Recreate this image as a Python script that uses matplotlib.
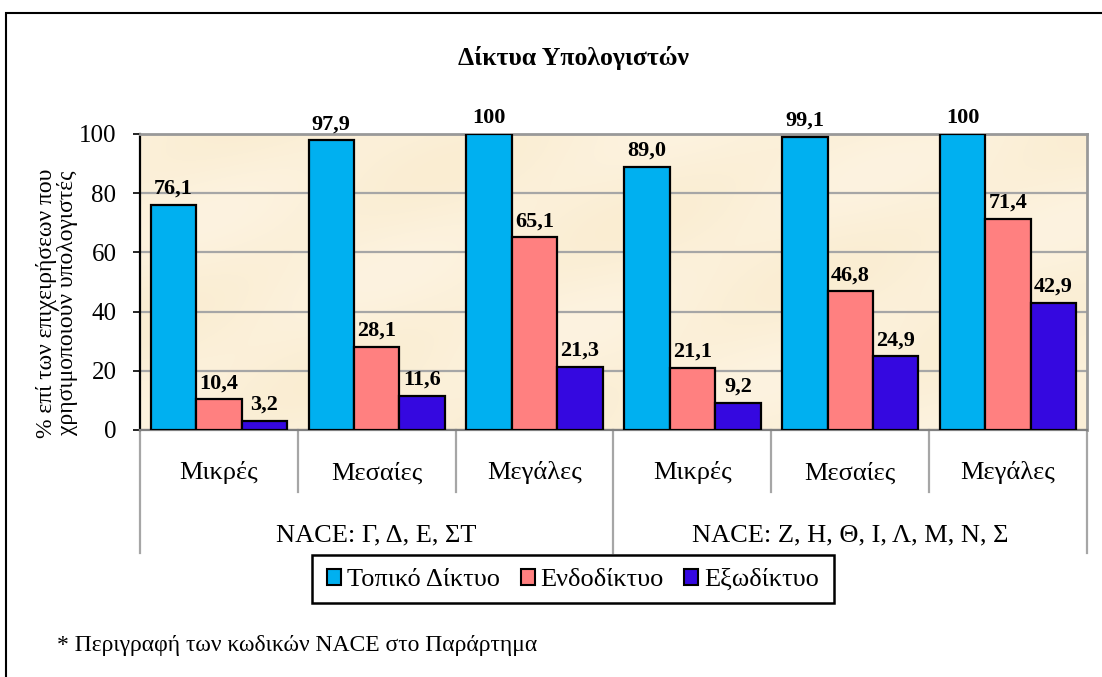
import numpy as np
import matplotlib.pyplot as plt
from matplotlib.patches import Rectangle

plt.rcParams['font.family'] = ['Liberation Serif', 'DejaVu Serif']

sizes = ["Μικρές", "Μεσαίες", "Μεγάλες", "Μικρές", "Μεσαίες", "Μεγάλες"]
groups = ["NACE: Γ, Δ, Ε, ΣΤ", "NACE: Ζ, Η, Θ, Ι, Λ, Μ, Ν, Σ"]
series_names = ["Τοπικό Δίκτυο", "Ενδοδίκτυο", "Εξωδίκτυο"]
topiko = [76.1, 97.9, 100, 89.0, 99.1, 100]
endo = [10.4, 28.1, 65.1, 21.1, 46.8, 71.4]
exo = [3.2, 11.6, 21.3, 9.2, 24.9, 42.9]
colors = ["#00B0F0", "#FF8080", "#3508E0"]

W, H = 1102, 677
fig = plt.figure(figsize=(W / 100, H / 100), dpi=100)
fig.patch.set_facecolor('white')

# plot area in pixels
left, right, top, bottom = 140, 1087, 134, 430
ax = fig.add_axes([left / W, 1 - bottom / H, (right - left) / W, (bottom - top) / H])
ax.set_facecolor('#FBEFD7')

# soft parchment look for the plot background
gy, gx = np.mgrid[0:40, 0:120]
v = 0.5 + 0.25 * np.sin(gx * 0.17 + gy * 0.31) + 0.25 * np.sin(gx * 0.06 - gy * 0.19)
light = np.array([253, 243, 224]) / 255
dark = np.array([250, 237, 210]) / 255
tex = light + (dark - light) * v[..., None]
ax.imshow(tex, extent=(-0.5, len(sizes) - 0.5, 0, 100), aspect='auto',
          interpolation='bicubic', zorder=0)

x = np.arange(len(sizes))
bw = 0.288
bars_all = []
for i, (vals, c, name) in enumerate(zip([topiko, endo, exo], colors, series_names)):
    b = ax.bar(x + (i - 1) * bw, vals, bw, color=c, edgecolor='black',
               linewidth=1.6, label=name, zorder=3)
    bars_all.append((b, vals))

def fmt(v):
    if v == 100:
        return "100"
    return f"{v:.1f}".replace('.', ',')

for b, vals in bars_all:
    for rect, val in zip(b, vals):
        ax.annotate(fmt(val), (rect.get_x() + rect.get_width() / 2, val),
                    xytext=(0, 8), textcoords='offset points', ha='center',
                    va='baseline', fontsize=16, fontweight='bold',
                    annotation_clip=False, zorder=5)

ax.set_xlim(-0.5, len(sizes) - 0.5)
ax.set_ylim(0, 100)
ax.set_yticks([0, 20, 40, 60, 80, 100])
ax.tick_params(axis='y', labelsize=18, length=5, width=1.2, pad=12, direction='out')
ax.set_xticks([])
ax.yaxis.grid(True, color='#A6A6A6', linewidth=1.6, zorder=1)
ax.set_axisbelow(True)
for s in ['top', 'right']:
    ax.spines[s].set_color('#999999')
    ax.spines[s].set_linewidth(2)
ax.spines['left'].set_color('black')
ax.spines['left'].set_linewidth(1.6)
ax.spines['bottom'].set_color('#808080')
ax.spines['bottom'].set_linewidth(1.6)

# category axis below the plot
trans = ax.get_xaxis_transform()
ph = bottom - top
def ay(py):
    return -(py - bottom) / ph

for k in range(len(sizes) + 1):
    xb = k - 0.5
    end = 553 if k % 3 == 0 else 492
    ax.plot([xb, xb], [0, ay(end)], color='#A6A6A6', linewidth=1.6,
            transform=trans, clip_on=False)
for k, lab in enumerate(sizes):
    ax.text(k, ay(473), lab, transform=trans, ha='center', va='center', fontsize=19)
for g, lab in enumerate(groups):
    ax.text(g * 3 + 1, ay(535), lab, transform=trans, ha='center', va='center', fontsize=19)

fig.text(57 / W, 1 - 303 / H, "% επί των επιχειρήσεων που\nχρησιμοποιούν υπολογιστές",
         rotation=90, ha='center', va='center', fontsize=17, linespacing=1.05)

fig.text(573 / W, 1 - 58 / H, "Δίκτυα Υπολογιστών", ha='center', va='center',
         fontsize=18.5, fontweight='bold')

leg = fig.legend(loc='center', bbox_to_anchor=(573 / W, 1 - 580 / H), ncol=3,
                 fontsize=19, frameon=False,
                 handlelength=0.53, handleheight=0.53, handletextpad=0.2,
                 columnspacing=0.8, borderpad=0.2)
for h in leg.legend_handles:
    h.set_edgecolor('black')
    h.set_linewidth(1.5)
fig.patches.append(Rectangle((312 / W, 1 - 603 / H), (834 - 312) / W, 48 / H,
                             transform=fig.transFigure, fill=False,
                             edgecolor='black', linewidth=1.8))

fig.text(57 / W, 1 - 645 / H, "* Περιγραφή των κωδικών NACE στο Παράρτημα",
         ha='left', va='center', fontsize=17)

fig.patches.append(Rectangle((6 / W, -0.05), 1.2, 1.05 - 13 / H,
                             transform=fig.transFigure, fill=False,
                             edgecolor='black', linewidth=1.5))

fig.savefig('out.png', dpi=100)
